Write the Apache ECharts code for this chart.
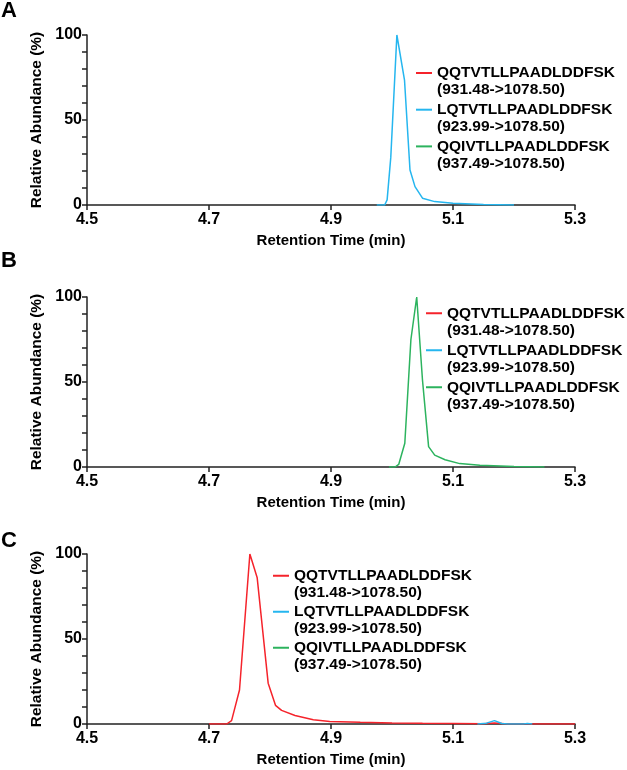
<!DOCTYPE html>
<html><head><meta charset="utf-8">
<script src="https://cdn.jsdelivr.net/npm/echarts@6/dist/echarts.min.js"></script>
<style>html,body{margin:0;padding:0;background:#fff}#c{width:627px;height:770px}</style>
</head><body><div id="c"></div><script>
// ---- data ----
const seriesNames = ['QQTVTLLPAADLDDFSK', 'LQTVTLLPAADLDDFSK', 'QQIVTLLPAADLDDFSK'];
const transitions = ['(931.48->1078.50)', '(923.99->1078.50)', '(937.49->1078.50)'];
const panelLabels = ['A', 'B', 'C'];
const xTicks = [4.5, 4.7, 4.9, 5.1, 5.3];
const yTicks = [0, 50, 100];

// Panel A: LQTVTLLPAADLDDFSK trace
const aLqtTime  = [4.975, 4.988, 4.992, 4.998, 5.008, 5.0205, 5.0295, 5.0377, 5.050, 5.070, 5.100, 5.150, 5.200];
const aLqtAbund = [0, 0, 3, 28, 100, 73.5, 20.6, 10.8, 4, 2, 1, 0.3, 0];

// Panel B: QQIVTLLPAADLDDFSK trace
const bQqiTime  = [4.995, 5.005, 5.011, 5.021, 5.031, 5.0405, 5.050, 5.060, 5.070, 5.087, 5.111, 5.144, 5.200, 5.250];
const bQqiAbund = [0, 0, 1.5, 14, 75, 100, 51, 12, 7, 4.3, 2, 1, 0.3, 0];

// Panel C: QQTVTLLPAADLDDFSK trace
const cQqtTime  = [4.700, 4.729, 4.737, 4.750, 4.767, 4.779, 4.797, 4.809, 4.819, 4.841, 4.871, 4.898, 4.948, 5.000, 5.050, 5.100, 5.150, 5.168, 5.185, 5.250, 5.300];
const cQqtAbund = [0, 0, 2, 20, 100, 86, 24, 11, 8, 5, 2.5, 1.5, 1, 0.6, 0.4, 0.3, 0.2, 0.6, 0.1, 0, 0];
// Panel C: LQTVTLLPAADLDDFSK small trace
const cLqtTime  = [5.140, 5.155, 5.168, 5.180, 5.190, 5.215, 5.222, 5.230];
const cLqtAbund = [0, 0.5, 2, 0.3, 0, 0, 0.3, 0];

// per panel, per series: [times, abundances] (empty when no signal)
const panelTraces = [
  [[[], []], [aLqtTime, aLqtAbund], [[], []]],
  [[[], []], [[], []], [bQqiTime, bQqiAbund]],
  [[cQqtTime, cQqtAbund], [cLqtTime, cLqtAbund], [[], []]]
];

// ---- styles / layout ----
const colors = ['#f5232b', '#25b6ef', '#2cb35e'];
const FONT = '"Liberation Sans", Arial, Helvetica, sans-serif';
const gridTops = [35, 297, 554];
const gridH = 170;
const legendPos = [
  {left: 416, top: 47.5, gap: -14.3, lh: 17},
  {left: 426, top: 287, gap: -15.5, lh: 17.5},
  {left: 273, top: 551, gap: -13.5, lh: 16.5}
];
const labelTops = [0, 250, 530];

const grids = [], xAxes = [], yAxes = [], series = [], legends = [], graphics = [];
for (let p = 0; p < 3; p++) {
  grids.push({left: 87, right: 52, top: gridTops[p], height: gridH});
  xAxes.push({
    type: 'value', gridIndex: p, min: xTicks[0], max: xTicks[xTicks.length - 1], interval: 0.2,
    name: 'Retention Time (min)', nameLocation: 'middle', nameGap: 28,
    nameTextStyle: {fontFamily: FONT, fontSize: 15, fontWeight: 'bold', color: '#000'},
    axisLine: {show: true, onZero: false, lineStyle: {color: '#222', width: 1.5}},
    axisTick: {show: true, length: 5, lineStyle: {color: '#222', width: 1.5}},
    axisLabel: {fontFamily: FONT, fontSize: 16, fontWeight: 'bold', color: '#000', margin: 7,
      formatter: v => v.toFixed(1)},
    splitLine: {show: false}
  });
  yAxes.push({
    type: 'value', gridIndex: p, min: yTicks[0], max: yTicks[yTicks.length - 1], interval: 50,
    name: 'Relative Abundance (%)', nameLocation: 'middle', nameGap: 35, nameRotate: 90,
    nameTextStyle: {fontFamily: FONT, fontSize: 15.5, fontWeight: 'bold', color: '#000'},
    axisLine: {show: true, lineStyle: {color: '#222', width: 1.5}},
    axisTick: {show: true, length: 5, lineStyle: {color: '#222', width: 1.5}},
    minorTick: {show: true, splitNumber: 5, length: 5, lineStyle: {color: '#222', width: 1.5}},
    axisLabel: {fontFamily: FONT, fontSize: 16, fontWeight: 'bold', color: '#000', margin: 5},
    splitLine: {show: false}
  });
  for (let i = 0; i < 3; i++) {
    const [t, v] = panelTraces[p][i];
    series.push({
      type: 'line', name: seriesNames[i], xAxisIndex: p, yAxisIndex: p,
      data: t.map((x, k) => [x, v[k]]), showSymbol: false, symbol: 'none',
      lineStyle: {color: colors[i], width: 1.5}, itemStyle: {color: colors[i]},
      z: 2 + i, silent: true
    });
  }
  legends.push({
    orient: 'vertical', left: legendPos[p].left, top: legendPos[p].top, padding: 0,
    itemGap: legendPos[p].gap, itemWidth: 16, itemHeight: 2, icon: 'rect',
    selectedMode: false,
    data: seriesNames.map((n, i) => ({name: n, itemStyle: {color: colors[i]}})),
    // leading blank line so the icon (centred on the text block) sits beside the first text line
    formatter: n => ' \n' + n + '\n' + transitions[seriesNames.indexOf(n)],
    textStyle: {fontFamily: FONT, fontSize: 15.5, fontWeight: 'bold', color: '#000', lineHeight: legendPos[p].lh}
  });
  graphics.push({
    type: 'text', left: 1, top: labelTops[p],
    style: {text: panelLabels[p], font: 'bold 22px ' + FONT, fill: '#000'}
  });
}

const chart = echarts.init(document.getElementById('c'), null, {renderer: 'canvas'});
chart.setOption({
  animation: false, backgroundColor: '#fff',
  grid: grids, xAxis: xAxes, yAxis: yAxes, series: series, legend: legends, graphic: graphics
});
</script></body></html>
